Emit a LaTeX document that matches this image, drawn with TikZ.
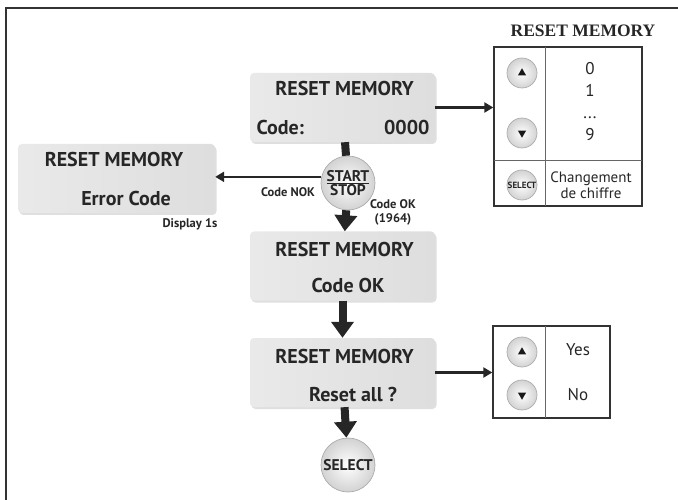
\documentclass[tikz,border=0pt]{standalone}
\usepackage{fontspec}
\setmainfont{PT Sans}
\newfontfamily\titlefont{Liberation Serif}
\usetikzlibrary{positioning,arrows.meta,shapes.geometric,shadows}

\begin{document}
\begin{tikzpicture}[x=1pt,y=-1pt]
		\tikzset{lcd/.style={rounded corners=4pt, left color=gray!17, right color=gray!26, drop shadow={opacity=0.25, shadow xshift=1.5pt, shadow yshift=-2pt}, minimum width=185pt, minimum height=69pt, inner sep=0pt},
		lcdtxt/.style={font=\bfseries\fontsize{20}{20}\selectfont, text=black!85},
		btn/.style={circle, draw=gray!65, line width=0.7pt, inner color=white, outer color=gray!35, minimum size=30pt, inner sep=0pt},
		bigbtn/.style={btn, minimum size=54pt},
		tri/.style={regular polygon, regular polygon sides=3, fill=black!90, minimum size=9.5pt, inner sep=0pt},
		tabbox/.style={draw=black!80, line width=1.4pt, inner sep=0pt},
		tline/.style={draw=black!60, line width=0.8pt},
		bigarr/.style={line width=8pt, black!85, -{Triangle[length=16pt,width=22pt]}},
		bigline/.style={line width=8pt, black!85},
		thinarr/.style={line width=2.6pt, black!85, -{Triangle[length=9pt,width=10pt]}},
		small/.style={font=\bfseries\fontsize{12.5}{14}\selectfont, text=black!85, align=center},
		tabtxt/.style={font=\fontsize{17}{17}\selectfont, text=black!85, anchor=base, inner sep=0pt}}
		\useasboundingbox (0,0) rectangle (678,500);
		\draw[line width=2pt,black!80] (6,500) -- (6,8) -- (678,8);
		% screens
		\node[lcd] (code) at (342.5,107.5) {};
		\node[lcd,minimum width=197pt] (err) at (116.5,178.5) {};
		\node[lcd] (ok) at (342.5,266) {};
		\node[lcd] (rst) at (342.5,372.5) {};
		\node[lcdtxt] at (344.5,89) {RESET MEMORY};
		\node[lcdtxt,anchor=west] at (253,128) {Code:};
		\node[lcdtxt,anchor=east] at (433,128) {0000};
		\node[lcdtxt] at (114,160) {RESET MEMORY};
		\node[lcdtxt] at (126,199) {Error Code};
		\node[lcdtxt] at (344.5,249) {RESET MEMORY};
		\node[lcdtxt] at (348,285) {Code OK};
		\node[lcdtxt] at (344.5,356) {RESET MEMORY};
		\node[lcdtxt] at (353,394) {Reset all ?};
		% keys
		\node[bigbtn] (ss) at (348,183) {};
		\node[bigbtn] (sel) at (348,465) {};
		\node[font=\bfseries\fontsize{15.5}{15}\selectfont, text=black!85, align=center] at (ss) {\underline{START}\\[-1pt]STOP};
		\node[font=\bfseries\fontsize{15.5}{15}\selectfont, text=black!85] at (sel) {SELECT};
		\draw[bigline] (code) -- (ss);
		\draw[bigarr] (ss) -- (ok);
		\draw[bigarr] (ok) -- (rst);
		\draw[bigarr] (rst) -- (sel);
		\draw[thinarr] (ss.167) -- (ss.167 -| err.east);
		\node[small] at (288,192) {Code NOK};
		\node[small] at (393,212) {Code OK\\(1964)};
		\node[small] at (190,224) {Display 1s};
		% digit table
		\node[font=\titlefont\bfseries\fontsize{17.5}{17}\selectfont, text=black!85] at (583,31) {RESET MEMORY};
		\node[tabbox,minimum width=148pt,minimum height=159pt] (t1) at (568,126.5) {};
		\draw[tline] (545,47) -- (545,206);
		\draw[tline] (494,160) -- (642,160);
		\node[btn] (up1) at (522,73) {};
		\node[tri] at (up1) {};
		\node[btn] (dn1) at (522,133) {};
		\node[tri,shape border rotate=180] at (dn1) {};
		\node[btn] (sel1) at (522,185) {};
		\node[font=\bfseries\fontsize{9}{9}\selectfont, text=black!85] at (sel1) {SELECT};
		\node[tabtxt] at (590,75) {0};
		\node[tabtxt] at (590,97) {1};
		\node[tabtxt] at (590,119) {...};
		\node[tabtxt] at (590,141) {9};
		\node[text=black!85,align=center,font=\fontsize{15}{16}\selectfont] at (591,185) {Changement\\de chiffre};
		\draw[thinarr] (code) -- (code -| t1.west);
		% yes/no table
		\node[tabbox,minimum width=117pt,minimum height=92pt] (t2) at (551.5,372) {};
		\draw[tline] (545,326) -- (545,418);
		\node[btn] (up2) at (522,352) {};
		\node[tri] at (up2) {};
		\node[btn] (dn2) at (522,395) {};
		\node[tri,shape border rotate=180] at (dn2) {};
		\node[tabtxt] at (578,355) {Yes};
		\node[tabtxt] at (578,400) {No};
		\draw[thinarr] (rst) -- (rst -| t2.west);
	\end{tikzpicture}
\end{document}
